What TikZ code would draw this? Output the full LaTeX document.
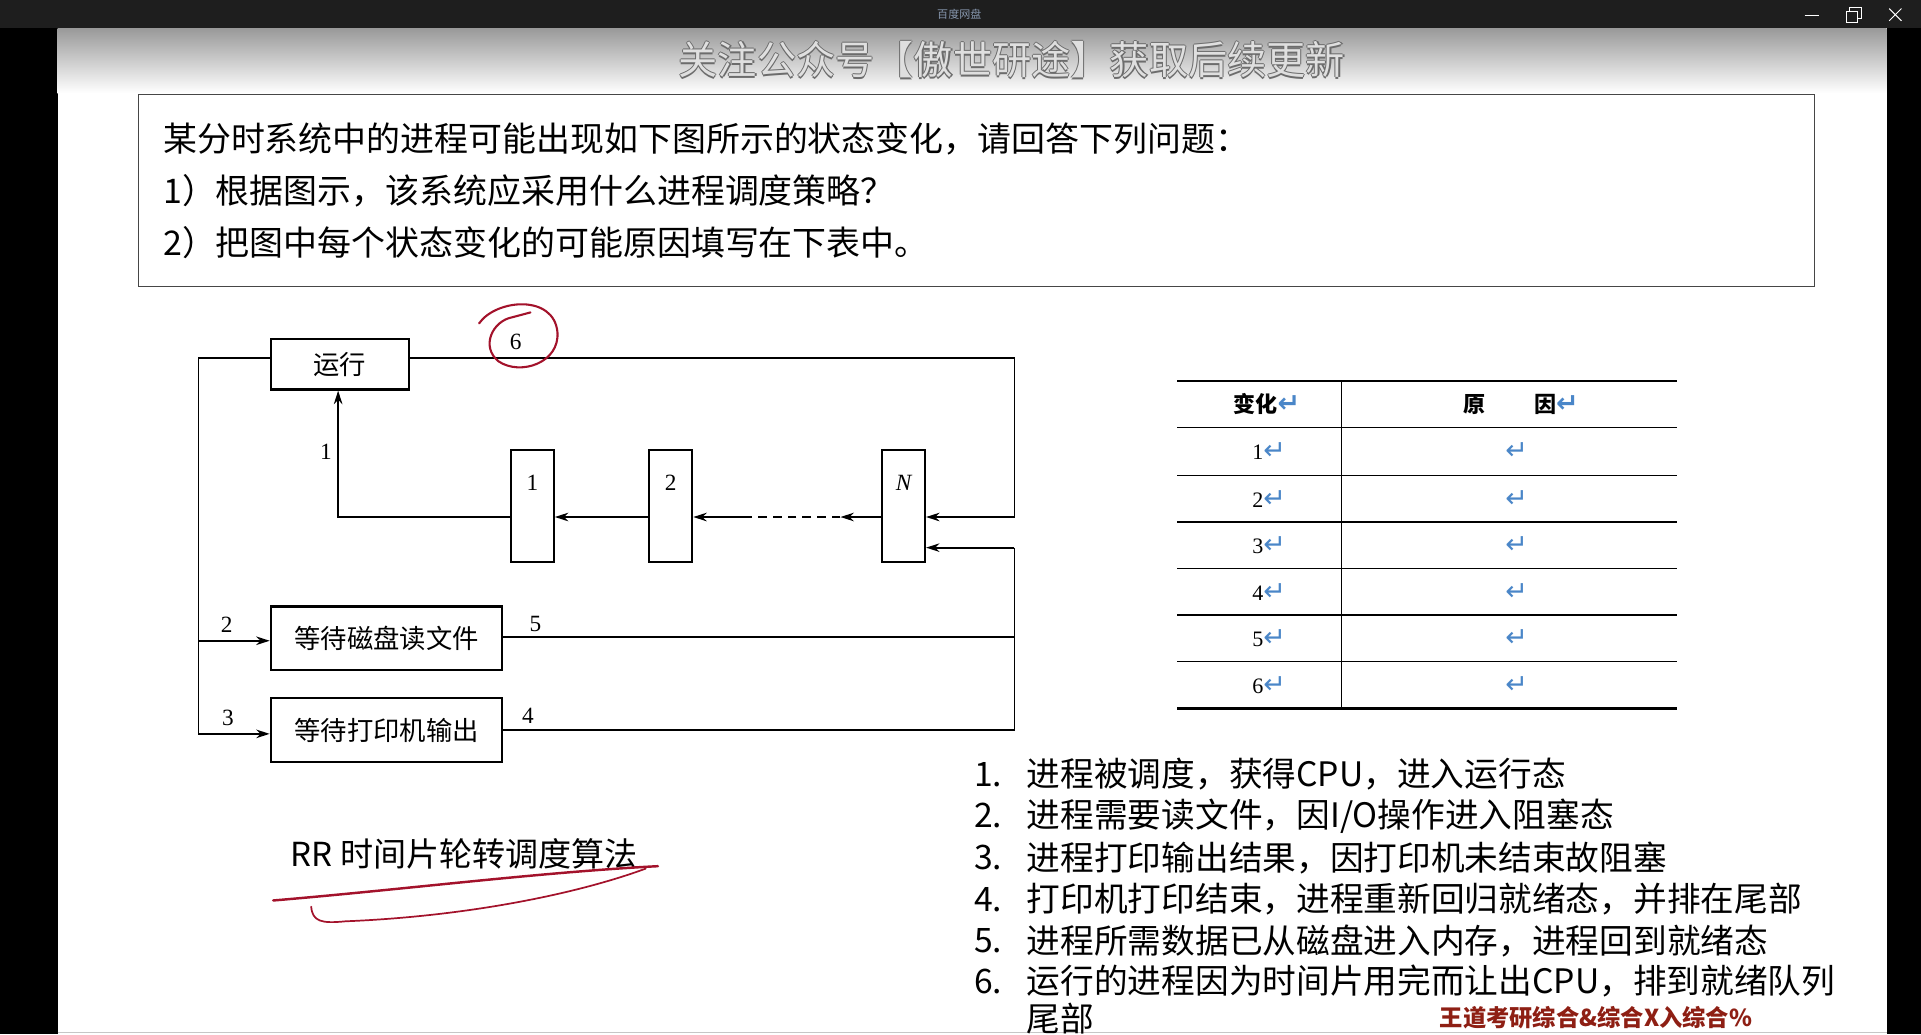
\documentclass[tikz,border=0pt]{standalone}
\usepackage{fontspec}
\setmainfont{Liberation Serif}
\newfontfamily\cjk{Noto Sans CJK SC}
\newfontfamily\symfont{DejaVu Sans}
\usetikzlibrary{arrows.meta,positioning}

\definecolor{barbg}{HTML}{1E1E1E}
\definecolor{titlegray}{HTML}{8797AE}
\definecolor{pen}{HTML}{A3122B}
\definecolor{markblue}{HTML}{4A86C8}
\definecolor{stampred}{HTML}{8E1F14}

\newcommand\retmark{{\color{markblue}\symfont\fontsize{22}{22}\selectfont ↵}}

\tikzset{
  statebox/.style={draw,line width=1.8pt,inner sep=0pt,minimum height=41pt,
    font=\cjk\fontsize{21.5}{21.5}\selectfont},
  queuebox/.style={draw,line width=1.8pt,inner sep=0pt,minimum width=35pt,minimum height=92pt},
  flow/.style={line width=1.4pt},
  arrowin/.style={-{Stealth[length=11pt,width=7pt]}},
  num/.style={inner sep=0pt,font=\fontsize{19}{19}\selectfont},
  ink/.style={pen,line width=1.7pt,line cap=round,line join=round},
  tabrule/.style={line width=1.2pt},
  qtext/.style={anchor=west,inner sep=0pt,font=\cjk\fontsize{27.7}{27.7}\selectfont},
  listtext/.style={anchor=west,inner sep=0pt,font=\cjk\fontsize{27.5}{27.5}\selectfont},
  cell/.style={inner sep=0pt,font=\fontsize{18}{18}\selectfont},
  headcell/.style={inner sep=0pt,font=\cjk\bfseries\fontsize{18}{18}\selectfont},
}

\begin{document}
\begin{tikzpicture}[x=1pt,y=-1pt]
  \useasboundingbox (0,0) rectangle (1568,844);

  % window frame
  \fill[white] (0,0) rectangle (1568,844);
  \fill[barbg] (0,0) rectangle (1568,23);
  \fill[black] (0,23) rectangle (47,844);
  \fill[black] (1540,23) rectangle (1568,844);
  \shade[top color=gray!80,bottom color=white] (47,23) rectangle (1540,76);
  \node[inner sep=0pt,font=\cjk\fontsize{9}{9}\selectfont,text=titlegray] (apptitle) at (783,12) {百度网盘};
  \draw[white,line width=0.8pt] (1473,13) -- (1485,13);
  \draw[white,line width=0.8pt] (1507,9) rectangle (1516,18);
  \draw[white,line width=0.8pt] (1510,9) -- (1510,6) -- (1519,6) -- (1519,15) -- (1516,15);
  \draw[white,line width=0.8pt] (1542,7) -- (1552,17) (1552,7) -- (1542,17);
  \draw[gray!45,line width=1pt] (47,842.5) -- (1540,842.5);

  % banner (outlined letters)
  \foreach \dx/\dy in {-0.9/0,0.9/0,0/-0.9,0/0.9}
    \node[inner sep=0pt,font=\cjk\fontsize{32}{32}\selectfont,text=gray!85!black] at (826+\dx,49+\dy) {关注公众号【傲世研途】获取后续更新};
  \node[inner sep=0pt,font=\cjk\fontsize{32}{32}\selectfont,text=gray!25] (banner) at (826,49) {关注公众号【傲世研途】获取后续更新};

  % question
  \draw[gray!55!black,line width=1.3pt] (113,77) rectangle (1481,234);
  \node[qtext] (ask1) at (133,113) {某分时系统中的进程可能出现如下图所示的状态变化，请回答下列问题：};
  \node[qtext] (ask2) at (133,156) {1）根据图示，该系统应采用什么进程调度策略？};
  \node[qtext] (ask3) at (133,198) {2）把图中每个状态变化的可能原因填写在下表中。};

  % states
  \node[statebox,minimum width=113pt] (run) at (277.5,297.5) {运行};
  \node[statebox,minimum width=189pt,minimum height=52pt] (disk) at (315.5,521) {等待磁盘读文件};
  \node[statebox,minimum width=189pt,minimum height=52pt] (print) at (315.5,596) {等待打印机输出};
  \node[queuebox] (rq1) at (434.5,413) {};
  \node[queuebox] (rq2) at (547.5,413) {};
  \node[queuebox] (rqN) at (737.5,413) {};
  \node[num] (rq1n) at (434.5,394) {1};
  \node[num] (rq2n) at (547.5,394) {2};
  \node[num] (rqNn) at (737.5,394) {\itshape N};

  % connectors
  \coordinate (lt) at (162,292);
  \coordinate (lb) at (162,599);
  \coordinate (rt) at (828,292);
  \coordinate (rb) at (828,596);
  \coordinate (qy) at (0,422);
  \coordinate (up) at (276,422);
  \coordinate (dashr) at (686,422);
  \coordinate (dashl) at (608,422);
  \draw[flow] (run.west |- lt) -- (lt) -- (lb);
  \draw[flow,arrowin] (lt |- 0,523) -- (disk.west |- 0,523);
  \draw[flow,arrowin] (lb) -- (lb -| print.west);
  \draw[flow,arrowin] (run.east |- rt) -- (rt) -- (rt |- qy) -- (rqN.east |- qy);
  \draw[flow,arrowin] (rb |- 0,447) -- (rqN.east |- 0,447);
  \draw[flow] (rb |- 0,447) -- (rb) -- (print.east |- rb);
  \draw[flow] (disk.east |- 0,520) -- (rb |- 0,520);
  \draw[flow,arrowin] (rqN.west |- qy) -- (dashr);
  \draw[flow,dash pattern=on 7pt off 5pt] (dashr) -- (dashl);
  \draw[flow,arrowin] (dashl) -- (rq2.east |- qy);
  \draw[flow,arrowin] (rq2.west |- qy) -- (rq1.east |- qy);
  \draw[flow,arrowin] (rq1.west |- qy) -- (up) -- (up |- run.south);

  \node[num] (lab1) at (266,369) {1};
  \node[num] (lab2) at (185,510) {2};
  \node[num] (lab3) at (186,586) {3};
  \node[num] (lab4) at (431,584) {4};
  \node[num] (lab5) at (437,509) {5};
  \node[num] (lab6) at (421,279) {6};

  % pen marks
  \draw[ink] (391,264) .. controls (405,244) and (452,240) .. (455,271)
    .. controls (457,296) and (425,307) .. (407,295)
    .. controls (392,283) and (402,262) .. (418,259) -- (433,255);
  \node[anchor=west,inner sep=0pt,font=\cjk\fontsize{27}{27}\selectfont] (answer) at (237,697) {RR 时间片轮转调度算法};
  \draw[ink,line width=2pt] (223,735) .. controls (330,726) and (440,712) .. (537,707);
  \draw[ink,line width=1.4pt] (254,740) .. controls (255,752) and (262,754) .. (282,752)
    .. controls (380,748) and (470,730) .. (527,709);

  % table
  \draw[line width=2.4pt] (961,311) -- (1369,311);
  \draw[line width=2.4pt] (961,578) -- (1369,578);
  \foreach \y in {349,388,426,464,502,540}
    \draw[tabrule] (961,\y) -- (1369,\y);
  \draw[tabrule] (1095,311) -- (1095,578);
  \node[headcell] (hchange) at (1034,330) {变化\retmark};
  \node[headcell,anchor=west] (hcause) at (1194,330) {原\hspace{40pt}因\retmark};
  \foreach \n/\y in {1/368,2/407,3/445,4/483,5/521,6/559} {
    \node[cell] (row\n) at (1036,\y) {\n\retmark};
    \node[cell] (cause\n) at (1238,\y) {\retmark};
  }

  % answers
  \foreach \y/\n/\t in {632/1./{进程被调度，获得CPU，进入运行态},
      666/2./{进程需要读文件，因I/O操作进入阻塞态},
      700/3./{进程打印输出结果，因打印机未结束故阻塞},
      734/4./{打印机打印结束，进程重新回归就绪态，并排在尾部},
      768/5./{进程所需数据已从磁盘进入内存，进程回到就绪态},
      801/6./{运行的进程因为时间片用完而让出CPU，排到就绪队列}} {
    \node[listtext] at (795,\y) {\n};
    \node[listtext] at (838,\y) {\t};
  }
  \node[listtext] (tail) at (838,831) {尾部};
  \node[anchor=west,inner sep=0pt,font=\cjk\bfseries\fontsize{19}{19}\selectfont,text=stampred] (stamp) at (1175,831) {王道考研综合\&综合X入综合\%};
\end{tikzpicture}
\end{document}
